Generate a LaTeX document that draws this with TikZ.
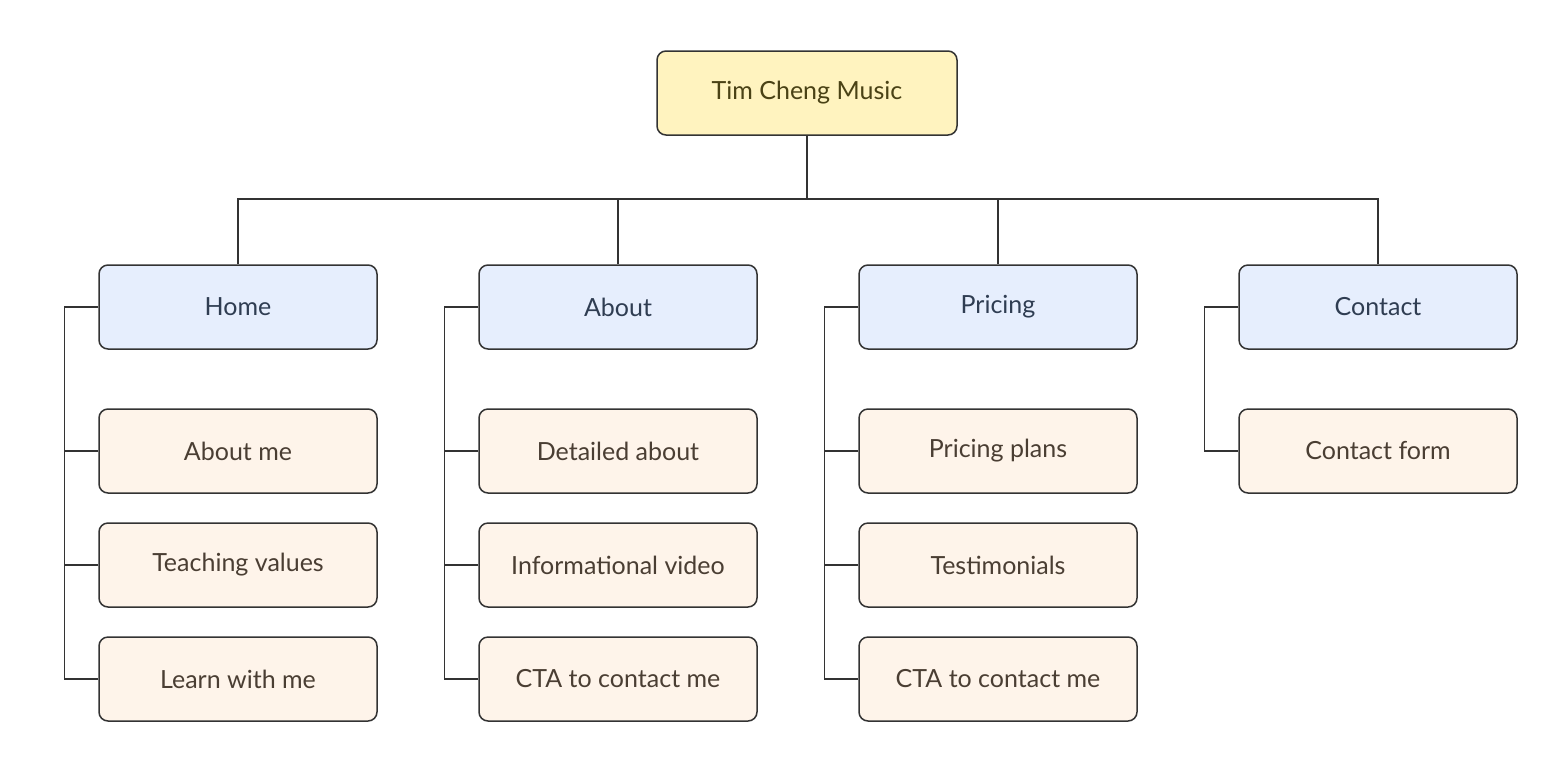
\documentclass[tikz,border=0pt]{standalone}
\usepackage{fontspec}
\setmainfont{Lato}
\definecolor{rootfill}{HTML}{FFF3BF}
\definecolor{roottext}{HTML}{4A4215}
\definecolor{catfill}{HTML}{E6EEFD}
\definecolor{cattext}{HTML}{2F3D52}
\definecolor{subfill}{HTML}{FEF4EA}
\definecolor{subtext}{HTML}{4A3E33}
\definecolor{edge}{HTML}{333333}
\begin{document}
\begin{tikzpicture}[x=1pt,y=-1pt,
 box/.style={draw=edge,line width=1.5pt,rounded corners=9pt,minimum width=278pt,minimum height=84pt,inner sep=0pt,font=\fontsize{25}{30}\selectfont},
 root/.style={box,fill=rootfill,text=roottext,minimum width=300pt},
 cat/.style={box,fill=catfill,text=cattext},
 sub/.style={box,fill=subfill,text=subtext},
 con/.style={draw=edge,line width=1.5pt}]
\useasboundingbox (0,0) rectangle (1568,780);
\node[root] (r) at (807,93) {Tim Cheng Music};
\node[cat] (h) at (238,307) {Home};
\node[cat] (a) at (618,307) {About};
\node[cat] (p) at (998,307) {Pricing};
\node[cat] (c) at (1378,307) {Contact};
\node[sub] (h1) at (238,451) {About me};
\node[sub] (h2) at (238,565) {Teaching values};
\node[sub] (h3) at (238,679) {Learn with me};
\node[sub] (a1) at (618,451) {Detailed about};
\node[sub] (a2) at (618,565) {Informational video};
\node[sub] (a3) at (618,679) {CTA to contact me};
\node[sub] (p1) at (998,451) {Pricing plans};
\node[sub] (p2) at (998,565) {Testimonials};
\node[sub] (p3) at (998,679) {CTA to contact me};
\node[sub] (c1) at (1378,451) {Contact form};
\coordinate (bus) at (807,199);
\draw[con] (r.south) -- (bus);
\foreach \n in {h,a,p,c} \draw[con] (\n.north) |- (bus);
\foreach \n/\last in {h/h3,a/a3,p/p3,c/c1}{
  \draw[con] (\n.west) -- ++(-34,0) |- (\last.west);
}
\foreach \k in {h1,h2,a1,a2,p1,p2}{
  \draw[con] (\k.west) -- ++(-34,0);
}
\end{tikzpicture}
\end{document}
